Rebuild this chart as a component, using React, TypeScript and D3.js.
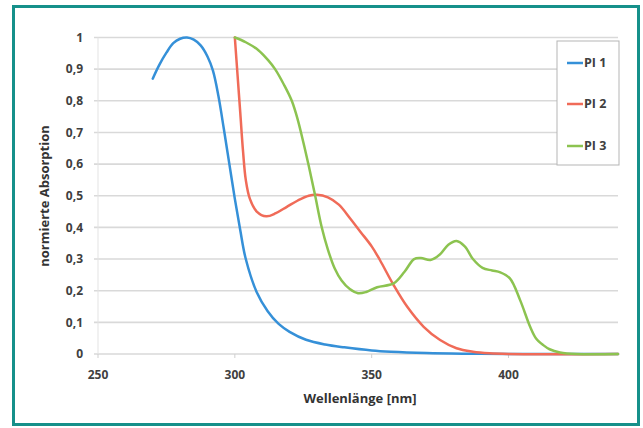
import React from "react";
import * as d3 from "d3";

const xTicks = [250, 300, 350, 400];
const yTicks = [0, 0.1, 0.2, 0.3, 0.4, 0.5, 0.6, 0.7, 0.8, 0.9, 1];
const yTickLabels = ["0", "0,1", "0,2", "0,3", "0,4", "0,5", "0,6", "0,7", "0,8", "0,9", "1"];

const seriesNames = ["PI 1", "PI 2", "PI 3"];
const seriesColors = ["#3590d8", "#f06b58", "#8cc350"];

const pi1X = [270, 272.5, 275, 277.5, 280, 282.5, 285, 287.5, 290, 292, 294, 296, 298, 300, 302, 304, 308, 312, 316, 320, 326, 333, 340, 350, 357, 370, 385, 400, 440];
const pi1Y = [0.87, 0.915, 0.952, 0.982, 0.996, 1.0, 0.993, 0.975, 0.94, 0.895, 0.815, 0.71, 0.6, 0.49, 0.39, 0.3, 0.195, 0.135, 0.095, 0.07, 0.045, 0.03, 0.021, 0.011, 0.007, 0.003, 0.001, 0, 0];

const pi2X = [300, 301, 302, 303, 304, 305.5, 308, 311.5, 315, 319, 323, 327, 330, 334, 338, 342, 346, 350, 353, 358, 363, 369, 375, 381, 387, 393, 400, 440];
const pi2Y = [1.0, 0.88, 0.76, 0.64, 0.55, 0.49, 0.45, 0.435, 0.445, 0.465, 0.485, 0.5, 0.503, 0.495, 0.472, 0.43, 0.385, 0.34, 0.297, 0.218, 0.149, 0.086, 0.044, 0.018, 0.007, 0.002, 0, 0];

const pi3X = [300, 304, 308.6, 312, 314.7, 318, 320.8, 323, 325, 327, 329.3, 331.7, 334, 336.5, 339, 342, 345, 348, 352, 358, 362, 365.5, 368, 371.5, 375, 378, 381, 384, 387, 390.5, 394, 397, 400.5, 404.2, 407.9, 410, 412.7, 415, 418.8, 425, 440];
const pi3Y = [1.0, 0.985, 0.96, 0.93, 0.9, 0.85, 0.8, 0.74, 0.67, 0.595, 0.502, 0.402, 0.33, 0.27, 0.232, 0.205, 0.192, 0.196, 0.211, 0.223, 0.26, 0.3, 0.303, 0.297, 0.315, 0.345, 0.357, 0.34, 0.3, 0.272, 0.264, 0.258, 0.239, 0.171, 0.086, 0.05, 0.028, 0.015, 0.005, 0, 0];

const seriesX = [pi1X, pi2X, pi3X];
const seriesY = [pi1Y, pi2Y, pi3Y];

const W = 643;
const H = 428;
const FONT = "'Open Sans', 'Liberation Sans', sans-serif";

export default function App() {
  const x = d3.scaleLinear().domain([250, 440]).range([98, 618]);
  const y = d3.scaleLinear().domain([0, 1]).range([354, 37.5]);

  const line = d3
    .line<[number, number]>()
    .x((d) => x(d[0]))
    .y((d) => y(d[1]))
    .curve(d3.curveCatmullRom.alpha(0.5));

  const legendY = [63, 104, 146];

  return (
    <svg
      width={W}
      height={H}
      style={{ position: "absolute", left: 0, top: 0, background: "#fff" }}
      fontFamily={FONT}
    >
      <rect x={0} y={0} width={W} height={H} fill="#fff" />
      {yTicks.map((t, i) => (
        <line
          key={"g" + i}
          x1={x(250) - 4}
          x2={x(440)}
          y1={y(t)}
          y2={y(t)}
          stroke="#d9d9d9"
          strokeWidth={1.6}
        />
      ))}
      <line x1={x(250)} x2={x(250)} y1={y(1)} y2={y(0)} stroke="#e3e3e3" strokeWidth={1} />
      {xTicks.map((t, i) => (
        <line key={"xt" + i} x1={x(t)} x2={x(t)} y1={y(0)} y2={y(0) + 4} stroke="#cfcfcf" strokeWidth={1} />
      ))}
      {yTicks.map((t, i) => (
        <text
          key={"yl" + i}
          x={83}
          y={y(t)}
          dy="0.35em"
          textAnchor="end"
          fontSize={12}
          fontWeight={700}
          fill="#404040"
        >
          {yTickLabels[i]}
        </text>
      ))}
      {xTicks.map((t, i) => (
        <text
          key={"xl" + i}
          x={x(t)}
          y={379}
          textAnchor="middle"
          fontSize={12}
          fontWeight={700}
          fill="#404040"
        >
          {t}
        </text>
      ))}
      <text x={360} y={403} textAnchor="middle" fontSize={13} fontWeight={700} fill="#333">
        Wellenlänge [nm]
      </text>
      <text
        transform={`translate(49,196) rotate(-90)`}
        textAnchor="middle"
        fontSize={13}
        fontWeight={700}
        fill="#333"
      >
        normierte Absorption
      </text>
      {seriesX.map((xs, si) => {
        const pts: [number, number][] = xs.map((v, j) => [v, seriesY[si][j]]);
        return (
          <path
            key={"s" + si}
            d={line(pts) || ""}
            fill="none"
            stroke={seriesColors[si]}
            strokeWidth={2.5}
            strokeLinejoin="round"
            strokeLinecap="round"
          />
        );
      })}
      <rect x={557} y={41} width={62} height={124} fill="#fff" stroke="#b5b5b5" strokeWidth={1} />
      {seriesNames.map((n, i) => (
        <g key={"lg" + i}>
          <line x1={567} x2={583} y1={legendY[i]} y2={legendY[i]} stroke={seriesColors[i]} strokeWidth={2.5} />
          <text x={584} y={legendY[i]} dy="0.35em" fontSize={12.5} fontWeight={700} fill="#404040">
            {n}
          </text>
        </g>
      ))}
      <rect x={13.5} y={6.5} width={625} height={418} fill="none" stroke="#16908a" strokeWidth={3} />
    </svg>
  );
}
